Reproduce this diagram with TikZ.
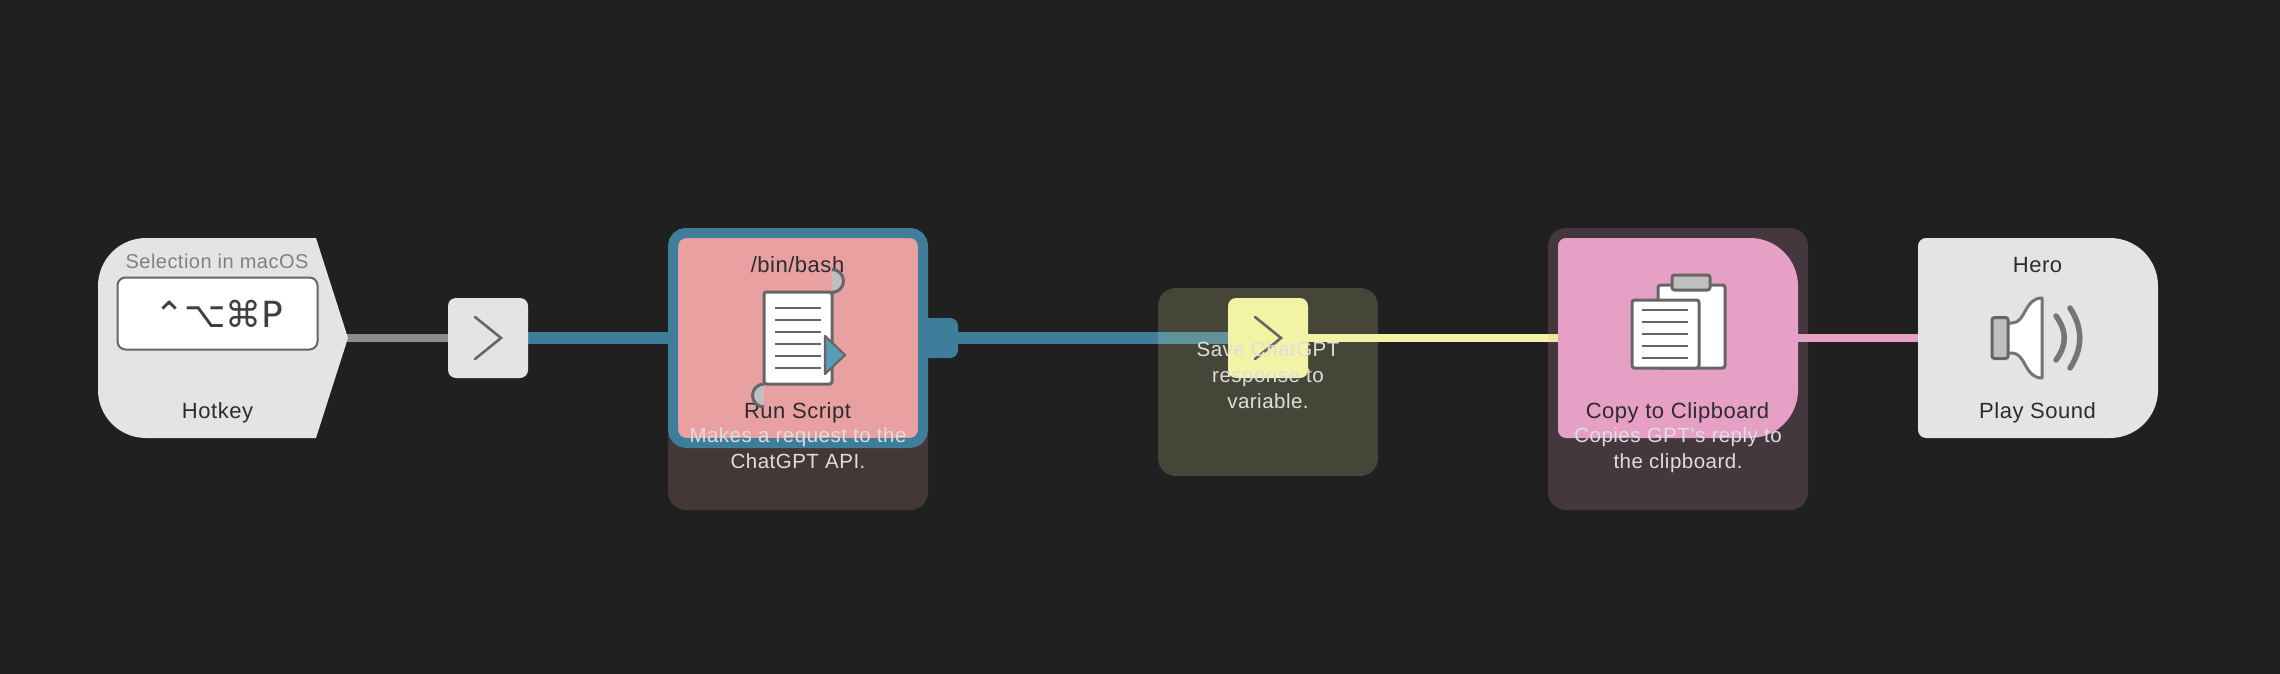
\documentclass[tikz,border=0pt]{standalone}
\usepackage{fontspec}
\setmainfont{Liberation Sans}[LetterSpace=2.4]
\newfontfamily\keyfont{DejaVu Sans}
\definecolor{canvas}{HTML}{202020}
\definecolor{shell}{HTML}{E4E4E4}
\definecolor{ink}{HTML}{2C2C2C}
\definecolor{iconline}{HTML}{666666}
\definecolor{icongray}{HTML}{BFBFBF}
\definecolor{notetext}{HTML}{DEDEDE}
\definecolor{teal}{HTML}{3E7E9A}
\definecolor{tealtip}{HTML}{559EB8}
\definecolor{scriptpink}{HTML}{E8A0A0}
\definecolor{varyellow}{HTML}{F3F3A6}
\definecolor{clippink}{HTML}{E7A0C5}
\pgfdeclarelayer{wires}
\pgfdeclarelayer{panels}
\pgfsetlayers{wires,panels,main}
\tikzset{
  gate/.style={rectangle,rounded corners=8pt,minimum size=80pt,inner sep=0pt,outer sep=0pt},
  chevron/.style={draw=iconline,line width=2.6pt,line cap=round,line join=miter},
  slot/.style={rectangle,minimum width=240pt,minimum height=200pt,inner sep=0pt,outer sep=0pt},
  panel/.style={rectangle,rounded corners=18pt,inner sep=0pt,outer sep=0pt,fill opacity=.186},
  wire/.style={line width=8pt},
  thickwire/.style={line width=12pt,teal},
  label/.style={anchor=base,inner sep=0pt,text=ink,font=\fontsize{22}{26}\selectfont},
  note/.style={anchor=base,inner sep=0pt,text=notetext,align=center,font=\fontsize{20.5}{26}\selectfont},
  sheet/.style={draw=iconline,fill=white,line width=3pt,rounded corners=2.5pt},
  textline/.style={draw=iconline,line width=2pt},
  graypart/.style={draw=iconline,fill=icongray,line width=3pt},
}
\begin{document}
\begin{tikzpicture}[x=1pt,y=-1pt]
  \begin{pgfonlayer}{wires}
    \fill[canvas] (0,0) rectangle (2280,674);
  \end{pgfonlayer}
  \useasboundingbox (0,0) rectangle (2280,674);

  % hotkey
  \fill[shell] (200,238) [sharp corners] -- (316,238) -- (348,338) -- (316,438) -- (200,438)
    [rounded corners=48pt] -- (98,438) -- (98,238) -- cycle;
  \coordinate (hotkeytip) at (347,338);
  \node[label,text=black!50,font=\fontsize{20}{24}\selectfont] (hotkeytop) at (217,268) {Selection in macOS};
  \node[rectangle,draw=iconline,fill=white,line width=2pt,rounded corners=8pt,minimum width=200pt,minimum height=72pt,inner sep=0pt] (keybox) at (217.5,313.5) {};
  \node[anchor=base,inner sep=0pt,text=black!75,font=\keyfont\fontsize{36}{40}\selectfont] (keys) at (219,327) {⌃⌥⌘P};
  \node[label] (hotkeyname) at (217.5,418) {Hotkey};

  % first gate
  \node[gate,fill=shell] (next1) at (488,338) {};
  \draw[chevron] (475,317) -- (501,338) -- (475,359);

  % run script
  \node[rectangle,fill=teal,rounded corners=8pt,minimum width=40pt,minimum height=40pt,inner sep=0pt,outer sep=0pt] (runtab) at (938,338) {};
  \node[rectangle,fill=scriptpink,draw=teal,line width=10pt,rounded corners=13pt,minimum width=250pt,minimum height=210pt,inner sep=0pt,outer sep=0pt] (run) at (798,338) {};
  \node[label] (runtop) at (797.5,272) {/bin/bash};
  \node[label] (runname) at (797.5,418) {Run Script};
  \node[note] (runnote) at (798,468) {Makes a request to the\\ChatGPT API.};
  \draw[graypart] (832,292.5) arc (-90:90:11.5 and -11.5);
  \draw[graypart] (764,384) arc (90:270:11.5 and -11.5);
  \draw[sheet,fill=white] (764,292) rectangle (832,384);
  \foreach \y in {308,320,332,344,356,368}
    \draw[textline] (775,\y) -- (821,\y);
  \draw[draw=iconline,fill=tealtip,line width=2.2pt,line join=round] (825,336) -- (845,355) -- (825,374) -- cycle;

  % second gate
  \node[gate,fill=varyellow] (next2) at (1268,338) {};
  \draw[chevron] (1255,317) -- (1281,338) -- (1255,359);
  \node[note] (savenote) at (1268,408) {Save ChatGPT\\response to\\variable.};

  % copy to clipboard
  \fill[clippink] (1678,238) [rounded corners=8pt] -- (1558,238) -- (1558,438) -- (1678,438)
    [rounded corners=48pt] -- (1798,438) -- (1798,238) -- cycle;
  \node[slot] (copy) at (1678,338) {};
  \node[label] (copyname) at (1677.5,418) {Copy to Clipboard};
  \node[note] (copynote) at (1678,468) {Copies GPT's reply to\\the clipboard.};
  \draw[sheet] (1658,285) rectangle (1725,368);
  \draw[sheet,fill=icongray] (1672,275) rectangle (1710,290);
  \draw[sheet] (1632,300) rectangle (1699,368);
  \foreach \y in {310,322,334,346,358}
    \draw[textline] (1642,\y) -- (1688,\y);

  % play sound
  \fill[shell] (2038,238) [rounded corners=8pt] -- (1918,238) -- (1918,438) -- (2038,438)
    [rounded corners=48pt] -- (2158,438) -- (2158,238) -- cycle;
  \node[slot] (sound) at (2038,338) {};
  \node[label] (soundtop) at (2037.5,272) {Hero};
  \node[label] (soundname) at (2037.5,418) {Play Sound};
  \draw[draw=iconline!90!white,fill=white,line width=3pt,line join=round] (2006,323) -- (2012,323)
    .. controls (2026,323) and (2024,298) .. (2042,298) -- (2042,378)
    .. controls (2024,378) and (2026,353) .. (2012,353) -- (2006,353) -- cycle;
  \draw[graypart,rounded corners=2.5pt] (1992,317.5) rectangle (2008,358.5);
  \draw[draw=iconline!90!white,line width=5.5pt,line cap=round] (2056,316) .. controls (2067,331) and (2067,345) .. (2056,360);
  \draw[draw=iconline!90!white,line width=5.5pt,line cap=round] (2070,308) .. controls (2083,328) and (2083,348) .. (2070,368);

  % connectors sit under the panels
  \begin{pgfonlayer}{wires}
    \path[wire,draw=black!45!white] (hotkeytip) edge (next1);
    \path[thickwire,draw=teal] (next1) edge (run);
    \path[thickwire,draw=teal] (runtab) edge (next2);
    \path[wire,draw=varyellow] (next2) edge (copy);
    \path[wire,draw=clippink] (copy) edge (sound);
  \end{pgfonlayer}
  \begin{pgfonlayer}{panels}
    \node[panel,fill=scriptpink,minimum width=260pt,minimum height=282pt] (runpanel) at (798,369) {};
    \node[panel,fill=varyellow,minimum width=220pt,minimum height=188pt] (savepanel) at (1268,382) {};
    \node[panel,fill=clippink,minimum width=260pt,minimum height=282pt] (copypanel) at (1678,369) {};
  \end{pgfonlayer}
\end{tikzpicture}
\end{document}
